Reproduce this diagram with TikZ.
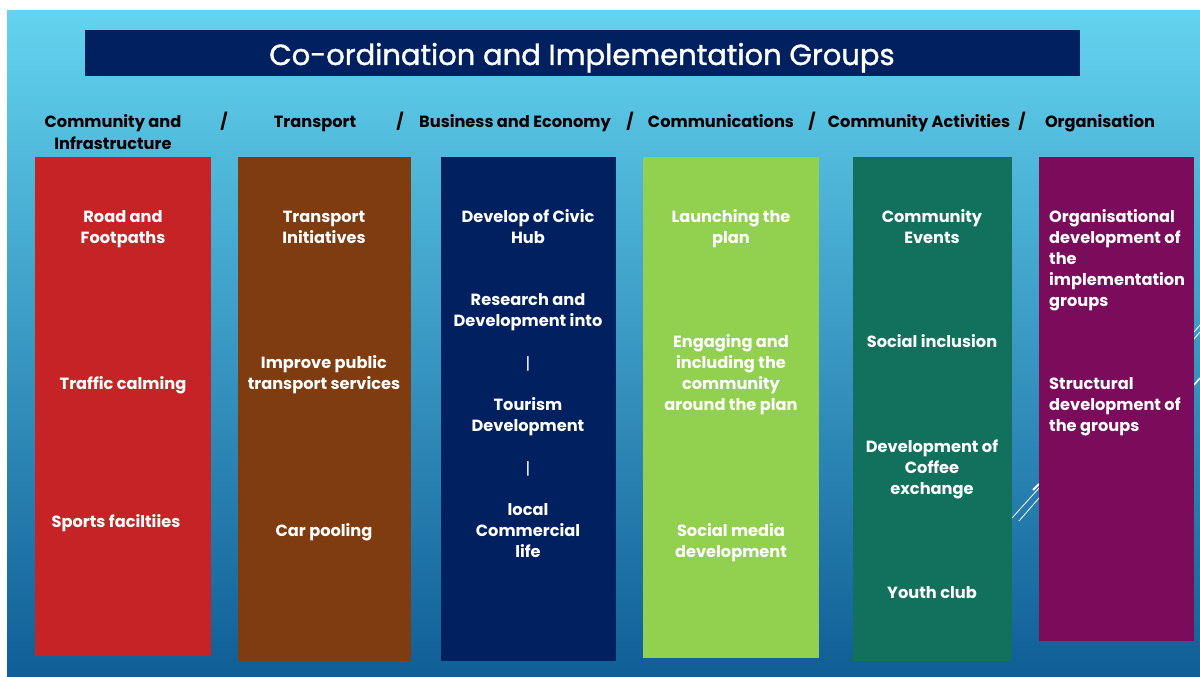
\documentclass[tikz,border=0pt]{standalone}
\usepackage{fontspec}
\setmainfont{Poppins}
\newfontfamily\titlefont{Poppins}[FakeBold=1.3]
\definecolor{bgtop}{RGB}{99,211,239}
\definecolor{bgmid}{RGB}{70,170,210}
\definecolor{bgbot}{RGB}{15,94,150}
\definecolor{navy}{RGB}{0,32,96}
\definecolor{cred}{RGB}{198,35,38}
\definecolor{cbrown}{RGB}{126,60,16}
\definecolor{cgreen}{RGB}{146,208,80}
\definecolor{cteal}{RGB}{18,113,92}
\definecolor{cpurple}{RGB}{123,11,91}
\begin{document}
\begin{tikzpicture}[x=1pt,y=-1pt,
  colbox/.style={anchor=north west, inner sep=0pt, outer sep=0pt},
  item/.style={text=white, font=\bfseries\fontsize{16.2}{21}\selectfont, align=center, inner sep=0pt, anchor=base},
  itemleft/.style={item, align=left, anchor=base west},
  bar/.style={item, font=\fontsize{16.2}{21}\selectfont},
  head/.style={text=black, font=\bfseries\fontsize{16.2}{21}\selectfont, align=center, inner sep=0pt, anchor=base},
  deco/.style={white, line width=0.8pt}]
\useasboundingbox (0,0) rectangle (1200,677);
\fill[white] (0,0) rectangle (1200,677);
\shade[top color=bgtop, middle color=bgmid, bottom color=bgbot] (7,11) rectangle (1200,677);
% title
\node[colbox, fill=navy, minimum width=995pt, minimum height=46pt] (titlebox) at (85,30) {};
\node[text=white, font=\titlefont\fontsize{29}{34}\selectfont, inner sep=0pt, anchor=base] (title) at (582,65) {Co-ordination and Implementation Groups};
% headers
\node[head] (h1) at (113,149) {Community and\\Infrastructure};
\node[head] (s1) at (224,128) {/};
\node[head] (h2) at (315,128) {Transport};
\node[head] (s2) at (400,128) {/};
\node[head] (h3) at (515,128) {Business and Economy};
\node[head] (s3) at (630,128) {/};
\node[head] (h4) at (721,128) {Communications};
\node[head] (s4) at (812,128) {/};
\node[head] (h5) at (919,128) {Community Activities};
\node[head] (s5) at (1022,128) {/};
\node[head] (h6) at (1100,128) {Organisation};
% decorative lines
\draw[deco] (1012,518) -- (1039,488);
\draw[deco] (1019,521) -- (1039,498);
\draw[white, line width=2pt] (1033,490) -- (1039,484);
\draw[deco] (1194,332) -- (1200,325);
\draw[deco] (1194,339) -- (1200,332);
\draw[white, line width=1.5pt] (1194,385) -- (1200,378);
% columns
\node[colbox, fill=cred, minimum width=176pt, minimum height=499pt] (c1) at (35,157) {};
\node[colbox, fill=cbrown, minimum width=173pt, minimum height=504pt] (c2) at (238,157) {};
\node[colbox, fill=navy, minimum width=175pt, minimum height=504pt] (c3) at (441,157) {};
\node[colbox, fill=cgreen, minimum width=176pt, minimum height=501pt] (c4) at (643,157) {};
\node[colbox, fill=cteal, minimum width=159pt, minimum height=504pt] (c5) at (853,157) {};
\node[colbox, fill=cpurple, minimum width=155pt, minimum height=484pt] (c6) at (1039,157) {};
% column 1
\node[item] (a1) at (123,243) {Road and\\Footpaths};
\node[item] (a2) at (123,389) {Traffic calming};
\node[item] (a3) at (116,527) {Sports faciltiies};
% column 2
\node[item] (b1) at (324,243) {Transport\\Initiatives};
\node[item] (b2) at (324,389) {Improve public\\transport services};
\node[item] (b3) at (324,536) {Car pooling};
% column 3
\node[item] (d1) at (528,243) {Develop of Civic\\Hub};
\node[item] (d2) at (528,326) {Research and\\Development into};
\node[bar] (d3) at (528,369) {|};
\node[item] (d4) at (528,431) {Tourism\\Development};
\node[bar] (d5) at (528,474) {|};
\node[item] (d6) at (528,557) {local\\Commercial\\life};
% column 4
\node[item] (e1) at (731,243) {Launching the\\plan};
\node[item] (e2) at (731,410) {Engaging and\\including the\\community\\around the plan};
\node[item] (e3) at (731,557) {Social media\\development};
% column 5
\node[item] (f1) at (932,243) {Community\\Events};
\node[item] (f2) at (932,347) {Social inclusion};
\node[item] (f3) at (932,494) {Development of\\Coffee\\exchange};
\node[item] (f4) at (932,598) {Youth club};
% column 6
\node[itemleft] (g1) at (1049,306) {Organisational\\development of\\the\\implementation\\groups};
\node[itemleft] (g2) at (1049,431) {Structural\\development of\\the groups};
\end{tikzpicture}
\end{document}
